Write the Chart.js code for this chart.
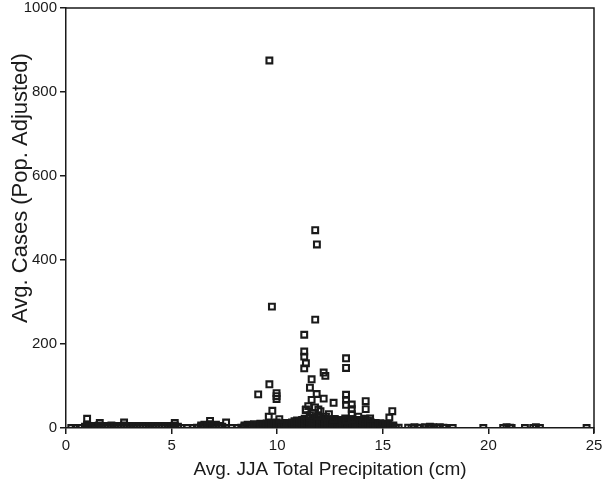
<!DOCTYPE html>
<html>
  <head>
    <meta charset="UTF-8">
    <title>Avg. Cases vs JJA Precipitation</title>
    <script src="https://cdn.jsdelivr.net/npm/chart.js@4.4.1/dist/chart.umd.min.js"></script>
    <style>
      body { margin: 0; background: #fff; }
    </style>
  </head>
<body>
  <canvas id="myChart" width="614" height="485"></canvas>

<script>

// isolated points above the dense band (x = precip cm, y = cases)
const outX = [9.63, 11.8, 11.88, 9.75, 11.8, 11.28, 11.28, 11.28, 11.36, 11.28,
  13.26, 13.26, 12.2, 12.28, 11.63, 11.55, 9.63, 9.1, 9.97, 9.97,
  9.97, 11.87, 12.2, 12.67, 13.26, 13.26, 13.26, 13.53, 13.53, 13.53,
  13.53, 14.19, 14.19, 13.84, 15.45, 15.31, 12.69, 13.26, 14.87, 14.4,
  11.63, 11.79, 11.95, 11.47, 11.36, 12.31, 12.66, 9.77, 9.6, 10.1,
  11.35, 11.7, 12.05, 11.55, 12.45, 11.9, 1.0, 1.6, 2.75, 5.15, 6.82, 7.58];
const outY = [875, 471, 437, 289, 258, 222, 182, 170, 154, 142,
  166, 143, 132, 124, 116, 96, 104, 80, 83, 76,
  69, 81, 70, 60, 79, 67, 55, 56, 45, 33,
  21, 64, 45, 27, 40, 25, 21, 19, 11, 23,
  67, 49, 44, 52, 44, 27, 21, 41, 27, 21,
  43, 35, 40, 30, 33, 28, 22, 12, 13, 12, 17, 13];

// dense band near zero: one x with the y values stacked on it
const lowX = [0.25, 0.46, 0.65, 0.9, 1.0, 1.1, 1.25, 1.4, 1.55, 1.7,
  1.85, 2.0, 2.15, 2.3, 2.45, 2.6, 2.75, 2.9, 3.05, 3.2,
  3.35, 3.5, 3.65, 3.8, 3.95, 4.1, 4.25, 4.4, 4.55, 4.7,
  4.85, 5.0, 5.15, 5.3, 5.45, 5.75, 6.0, 6.2, 6.4, 6.55,
  6.7, 6.82, 6.95, 7.1, 7.25, 7.4, 7.58, 7.85, 8.1, 8.3,
  8.45, 8.6, 8.75, 8.9, 9.05, 9.2, 9.35,
  9.5, 9.62, 9.74, 9.86, 9.98, 10.1, 10.22, 10.34, 10.46, 10.58,
  10.7, 10.82, 10.94, 11.06, 11.18, 11.3, 11.42, 11.54, 11.66, 11.78,
  11.9, 12.02, 12.14, 12.26, 12.38, 12.5, 12.62, 12.74, 12.86, 12.98,
  13.1, 13.22, 13.34, 13.46, 13.58, 13.7, 13.82, 13.94, 14.06, 14.18,
  14.3, 14.42, 14.54, 14.66, 14.78, 14.9, 15.02, 15.14, 15.26, 15.38,
  15.5, 15.62, 15.75];
const lowY = [[0], [0], [0], [0, 3], [1, 4, 8], [0, 2, 5], [1, 4], [0, 2, 5], [1, 4, 6], [0, 3, 5],
  [1, 4], [0, 2, 5], [1, 4, 6], [0, 3], [0, 2, 5], [1, 4], [0, 3, 6], [1, 4], [0, 2, 5], [1, 3],
  [0, 2, 5], [1, 4], [0, 2, 5], [1, 3], [0, 2, 5], [1, 4], [0, 2, 5], [1, 3], [0, 2, 5], [1, 4],
  [0, 2, 5], [1, 3], [0, 2, 6], [1, 3], [0], [0], [0], [1], [0, 3, 6], [1, 4, 8],
  [0, 2, 5], [3, 9], [0, 2, 6], [1, 4, 8], [0, 3, 5], [1, 3], [0], [0], [0], [1],
  [0, 3, 6], [1, 4, 8], [0, 2, 5], [1, 4, 9], [0, 3, 6], [1, 5, 10], [0, 3, 7],
  [0, 6, 11], [3, 9], [0, 7, 12], [4, 10], [1, 8, 13], [5, 11], [0, 7], [3, 10], [1, 6, 12], [4, 9],
  [0, 7, 13], [2, 10, 16], [5, 12, 18], [0, 8, 15], [3, 11, 19], [0, 7, 14, 22], [4, 10, 17], [1, 9, 16, 24], [5, 12, 20], [0, 8, 15, 23],
  [3, 11, 18], [0, 7, 14, 21], [4, 10, 17], [1, 8, 15, 22], [5, 12, 19], [0, 7, 14], [3, 10, 17], [0, 8, 15, 21], [4, 11, 18], [1, 7, 14],
  [5, 12, 19], [0, 8, 16, 23], [3, 10, 17], [0, 7, 14, 21], [4, 11, 18], [1, 8, 15], [5, 12, 19], [0, 7, 14], [3, 10, 17], [0, 8, 15, 22],
  [4, 11, 18], [1, 7, 14], [5, 10], [0, 7, 12], [3, 9], [0, 6, 11], [4, 8], [1, 6, 10], [3, 8], [0, 5],
  [2, 6], [0], [1]];

// wet counties sitting on the axis
const axisX = [16.2, 16.36, 16.5, 16.67, 16.76, 17.0, 17.15, 17.23, 17.3, 17.39,
  17.55, 17.7, 17.87, 17.95, 18.31, 19.76, 20.7, 20.86, 21.02, 21.1,
  21.73, 22.12, 22.25, 22.44, 24.65];
const axisY = [1, 0, 2, 0, 1, 2, 0, 3, 1, 2,
  0, 2, 1, 0, 0, 0, 0, 2, 1, 0,
  0, 0, 2, 0, 0];

const xTicks = [0, 5, 10, 15, 20, 25];
const yTicks = [0, 200, 400, 600, 800, 1000];
const yTitle = 'Avg. Cases (Pop. Adjusted)';

let points = [];
for (let i = 0; i < lowX.length; i++) {
  lowY[i].forEach(v => points.push({x: lowX[i], y: v}));
}
for (let i = 0; i < axisX.length; i++) points.push({x: axisX[i], y: axisY[i]});
for (let i = 0; i < outX.length; i++) points.push({x: outX[i], y: outY[i]});

const ink = '#1a1a1a';

// top and right edges of the box, plus the y title (sits above centre in the original)
const frame = {
  id: 'frame',
  afterDatasetsDraw(chart) {
    const a = chart.chartArea;
    const ctx = chart.ctx;
    ctx.save();
    ctx.strokeStyle = ink;
    ctx.lineWidth = 1.5;
    ctx.beginPath();
    ctx.moveTo(a.left, a.top);
    ctx.lineTo(a.right, a.top);
    ctx.lineTo(a.right, a.bottom + 5);
    ctx.stroke();

    ctx.translate(21, (a.top + a.bottom) / 2 - 30);
    ctx.rotate(-Math.PI / 2);
    ctx.fillStyle = ink;
    ctx.font = '22px "Liberation Sans"';
    ctx.textAlign = 'center';
    ctx.textBaseline = 'middle';
    ctx.fillText(yTitle, 0, 0);
    ctx.restore();
  }
};

new Chart("myChart", {
  type: "scatter",
  data: {
    datasets: [{
      data: points,
      pointStyle: 'rect',
      pointRadius: 4.1,
      pointHoverRadius: 4.1,
      borderWidth: 2.1,
      borderColor: ink,
      backgroundColor: 'rgba(0,0,0,0)'
    }]
  },
  options: {
    responsive: false,
    animation: false,
    layout: {padding: {top: 8, right: 20, left: 0, bottom: 0}},
    plugins: {legend: {display: false}, tooltip: {enabled: false}},
    scales: {
      x: {
        min: 0, max: 25,
        afterFit: s => { s.height = 57; },
        afterBuildTicks: s => { s.ticks = xTicks.map(v => ({value: v})); },
        ticks: {color: ink, font: {family: 'Liberation Sans', size: 15}, padding: 3,
          callback: v => String(v)},
        grid: {drawOnChartArea: false, drawTicks: true, tickLength: 6, color: ink, lineWidth: 1.5},
        border: {color: ink, width: 1.5},
        title: {display: true, text: 'Avg. JJA Total Precipitation (cm)', color: ink,
          font: {family: 'Liberation Sans', size: 19}, padding: {top: 0, bottom: 4}}
      },
      y: {
        min: 0, max: 1000,
        afterFit: s => { s.width = 66; s.paddingTop = 0; s.paddingBottom = 0; },
        afterBuildTicks: s => { s.ticks = yTicks.map(v => ({value: v})); },
        ticks: {color: ink, font: {family: 'Liberation Sans', size: 15}, padding: 3,
          callback: v => String(v)},
        grid: {drawOnChartArea: false, drawTicks: true, tickLength: 6, color: ink, lineWidth: 1.5},
        border: {color: ink, width: 1.5}
      }
    }
  },
  plugins: [frame]
});

</script>
</body>
</html>
